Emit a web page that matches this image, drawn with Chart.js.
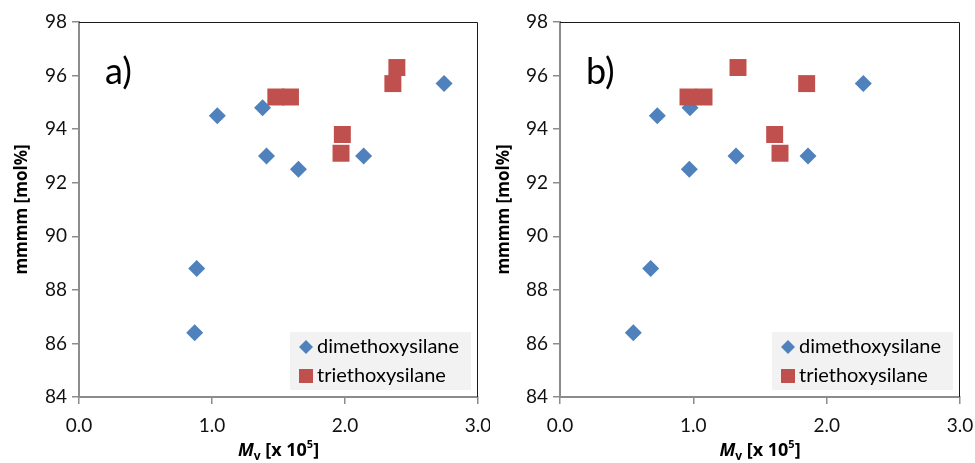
<!DOCTYPE html>
<html>
<head>
<meta charset="utf-8">
<title>mmmm vs Mv</title>
<script src="https://cdn.jsdelivr.net/npm/chart.js@4.4.1/dist/chart.umd.min.js"></script>
<style>
    html, body { margin: 0; padding: 0; background: #fff; }
    #wrap { position: relative; width: 975px; height: 463px; }
    .panel { position: absolute; top: 0; height: 463px; }
</style>
</head>
<body>
<div id="wrap">
    <div class="panel" style="left:0;width:490px"><canvas id="chart-a"></canvas></div>
    <div class="panel" style="left:490px;width:485px"><canvas id="chart-b"></canvas></div>
</div>
<script>
// 系列名・パネル名
const seriesNames = ['dimethoxysilane', 'triethoxysilane'];
const panelLabels = ['a)', 'b)'];

// 目盛り
const xTicks = [0, 1, 2, 3];
const yTicks = [84, 86, 88, 90, 92, 94, 96, 98];

// mmmm [mol%]（両パネル共通）
const dimethoxyMmmm = [86.4, 88.8, 94.5, 94.8, 93.0, 92.5, 93.0, 95.7];
const triethoxyMmmm = [95.2, 95.2, 93.8, 93.1, 95.7, 96.3];

// Mv [x 10^5] パネルa
const dimethoxyMvA = [0.87, 0.885, 1.04, 1.38, 1.41, 1.65, 2.14, 2.745];
const triethoxyMvA = [1.48, 1.59, 1.98, 1.97, 2.36, 2.39];

// Mv [x 10^5] パネルb
const dimethoxyMvB = [0.55, 0.68, 0.73, 0.975, 1.32, 0.97, 1.86, 2.275];
const triethoxyMvB = [0.96, 1.08, 1.61, 1.65, 1.85, 1.335];

const BLUE = '#4F81BD';
const RED = '#C0504D';
const FONT = 'Lato, "Open Sans", sans-serif';
const BOLD_FONT = '"Open Sans", "Noto Sans", sans-serif';

function toPoints(xs, ys) {
    return xs.map((x, i) => ({ x: x, y: ys[i] }));
}

// 枠線・パネル名・凡例・x軸タイトルを描画するプラグイン
const decorPlugin = {
    id: 'decor',
    afterDraw(chart, args, opts) {
        const ctx = chart.ctx;
        const a = chart.chartArea;
        ctx.save();

        // 上・右の枠
        ctx.strokeStyle = '#1a1a1a';
        ctx.lineWidth = 1;
        ctx.beginPath();
        ctx.moveTo(a.left, a.top + 0.5);
        ctx.lineTo(a.right - 0.5, a.top + 0.5);
        ctx.lineTo(a.right - 0.5, a.bottom);
        ctx.stroke();

        // パネル名
        ctx.fillStyle = '#000';
        ctx.font = '36px ' + FONT;
        ctx.textBaseline = 'alphabetic';
        ctx.textAlign = 'left';
        ctx.fillText(opts.label, a.left + 26, a.top + 62);

        // 凡例
        const lx = a.right - 188, ly = a.bottom - 65, lw = 181, lh = 58;
        ctx.fillStyle = '#F2F2F2';
        ctx.fillRect(lx, ly, lw, lh);
        ctx.font = '20px ' + FONT;
        ctx.textBaseline = 'middle';
        chart.data.datasets.forEach((ds, i) => {
            const cy = ly + 15 + i * 29;
            const cx = lx + 16;
            ctx.fillStyle = ds.backgroundColor;
            if (ds.pointStyle === 'rectRot') {
                ctx.beginPath();
                ctx.moveTo(cx - 7, cy);
                ctx.lineTo(cx, cy - 7);
                ctx.lineTo(cx + 7, cy);
                ctx.lineTo(cx, cy + 7);
                ctx.closePath();
                ctx.fill();
            } else {
                ctx.fillRect(cx - 7, cy - 7, 14, 14);
            }
            ctx.fillStyle = '#000';
            ctx.fillText(ds.label, lx + 27, cy);
        });

        // x軸タイトル: Mv [x 10^5]
        const parts = [
            { t: 'M', f: 'italic bold 18px ' + BOLD_FONT, dy: 0 },
            { t: 'v', f: 'bold 12px ' + BOLD_FONT, dy: 4 },
            { t: ' [x 10', f: 'bold 18px ' + BOLD_FONT, dy: 0 },
            { t: '5', f: 'bold 11px ' + BOLD_FONT, dy: -8 },
            { t: ']', f: 'bold 18px ' + BOLD_FONT, dy: 0 }
        ];
        let total = 0;
        parts.forEach(p => { ctx.font = p.f; p.w = ctx.measureText(p.t).width; total += p.w; });
        let x = (a.left + a.right) / 2 - total / 2;
        const base = a.bottom + 59;
        ctx.textBaseline = 'alphabetic';
        ctx.fillStyle = '#000';
        parts.forEach(p => {
            ctx.font = p.f;
            ctx.fillText(p.t, x, base + p.dy);
            x += p.w;
        });

        ctx.restore();
    }
};

function makeChart(canvasId, label, dimX, triX, plotLeft, rightPad, titlePad) {
    return new Chart(document.getElementById(canvasId), {
        type: 'scatter',
        data: {
            datasets: [
                {
                    label: seriesNames[0],
                    data: toPoints(dimX, dimethoxyMmmm),
                    pointStyle: 'rectRot',
                    pointRadius: 8.5,
                    backgroundColor: BLUE,
                    borderColor: BLUE,
                    borderWidth: 0,
                    order: 2
                },
                {
                    label: seriesNames[1],
                    data: toPoints(triX, triethoxyMmmm),
                    pointStyle: 'rect',
                    pointRadius: 12,
                    backgroundColor: RED,
                    borderColor: RED,
                    borderWidth: 0,
                    order: 1
                }
            ]
        },
        options: {
            responsive: true,
            maintainAspectRatio: false,
            animation: false,
            layout: { padding: { top: 22, right: rightPad, left: 0, bottom: 0 } },
            plugins: {
                legend: { display: false },
                tooltip: { enabled: false },
                decor: { label: label }
            },
            scales: {
                x: {
                    type: 'linear',
                    min: 0,
                    max: 3,
                    afterBuildTicks: s => { s.ticks = xTicks.map(v => ({ value: v })); },
                    afterFit: s => { s.height = 66; s.paddingLeft = 0; s.paddingRight = 0; },
                    border: { color: '#8C8C8C', width: 2 },
                    grid: { drawOnChartArea: false, drawTicks: true, tickLength: 7, color: '#8C8C8C', lineWidth: 1.5 },
                    ticks: {
                        padding: 10,
                        color: '#111',
                        font: { family: FONT, size: 19 },
                        callback: v => v.toFixed(1)
                    }
                },
                y: {
                    type: 'linear',
                    min: 84,
                    max: 98,
                    afterBuildTicks: s => { s.ticks = yTicks.map(v => ({ value: v })); },
                    afterFit: s => { s.width = plotLeft; s.paddingTop = 0; s.paddingBottom = 0; },
                    border: { color: '#8C8C8C', width: 2 },
                    grid: { drawOnChartArea: false, drawTicks: true, tickLength: 7, color: '#8C8C8C', lineWidth: 1.5 },
                    ticks: {
                        padding: 5,
                        color: '#111',
                        font: { family: FONT, size: 19 }
                    },
                    title: {
                        display: true,
                        text: 'mmmm [mol%]',
                        color: '#000',
                        font: { family: BOLD_FONT, size: 17, weight: 'bold' },
                        padding: { top: titlePad, bottom: 4 }
                    }
                }
            }
        },
        plugins: [decorPlugin]
    });
}

makeChart('chart-a', panelLabels[0], dimethoxyMvA, triethoxyMvA, 79, 11, 12);
makeChart('chart-b', panelLabels[1], dimethoxyMvB, triethoxyMvB, 70, 15, 4);
</script>
</body>
</html>
